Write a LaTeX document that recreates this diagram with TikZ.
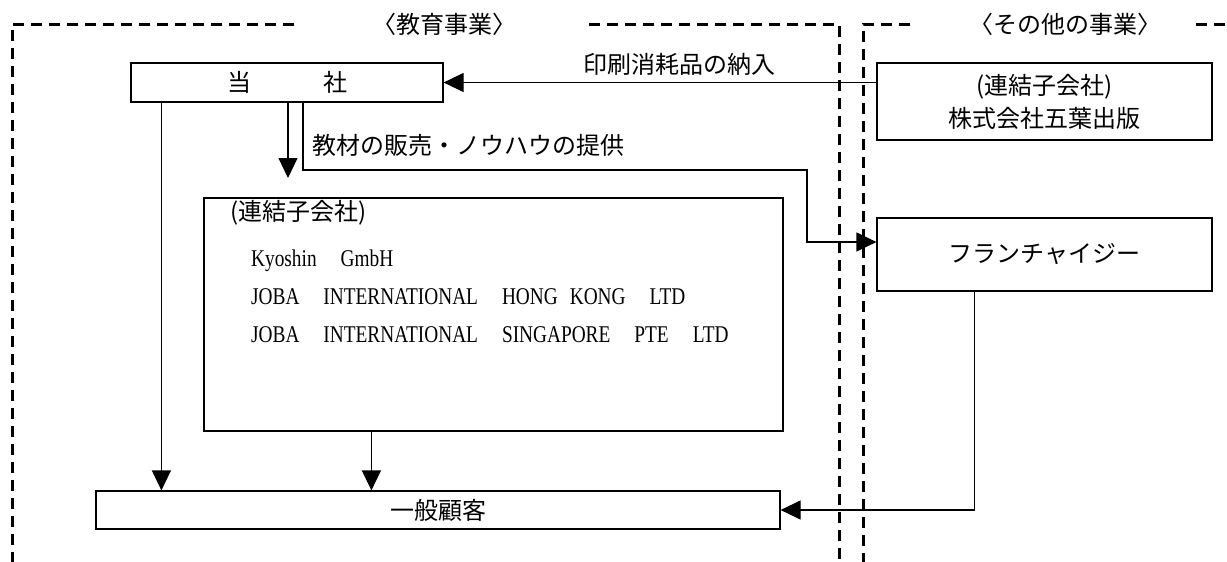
\documentclass[tikz,border=0pt]{standalone}
\usepackage{fontspec}
\setmainfont{Noto Sans CJK JP}
\newfontfamily\latinfont[FakeStretch=0.805]{Liberation Serif}
\usetikzlibrary{arrows.meta, positioning}

\begin{document}
\begin{tikzpicture}[x=1pt, y=-1pt,
    box/.style={draw, line width=1.2pt, inner sep=0pt},
    arr/.style={line width=1.2pt, -{Triangle[length=20pt, width=19pt]}},
    frame/.style={line width=3pt, dash pattern=on 11pt off 7pt},
    txt/.style={inner sep=0pt},
    font=\fontsize{24}{33}\selectfont]
    \useasboundingbox (0,0) rectangle (1227,562);
    % segment frames
    \draw[frame] (294,24) -- (12,24) -- (12,562);
    \draw[frame] (589,24) -- (839,24) -- (839,562);
    \draw[frame] (910,24) -- (863,24) -- (863,562);
    \draw[frame] (1196,24) -- (1227,24);
    \node[txt] (edu) at (444,24) {〈教育事業〉};
    \node[txt] (other) at (1065,24) {〈その他の事業〉};

    % companies
    \node[box, minimum width=312pt, minimum height=39pt] (tousha) at (287,82.5) {当\hspace{3em}社};
    \node[box, minimum width=335pt, minimum height=77pt, align=center] (goyo) at (1044.5,101.5) {(連結子会社)\\株式会社五葉出版};
    \node[box, minimum width=335pt, minimum height=73pt] (fc) at (1044.5,254.5) {フランチャイジー};
    \node[box, minimum width=579pt, minimum height=233pt] (sub) at (493.5,314.5) {};
    \node[txt, anchor=north west, align=left, font=\fontsize{24}{38}\selectfont] (sublist) at (230,200) {(連結子会社)\\[8pt]
        \hspace*{21pt}{\latinfont Kyoshin\hspace{24pt}GmbH}\\
        \hspace*{21pt}{\latinfont JOBA\hspace{24pt}INTERNATIONAL\hspace{24pt}HONG\hspace{12pt}KONG\hspace{24pt}LTD}\\
        \hspace*{21pt}{\latinfont JOBA\hspace{24pt}INTERNATIONAL\hspace{24pt}SINGAPORE\hspace{24pt}PTE\hspace{24pt}LTD}};
    \node[box, minimum width=684pt, minimum height=38pt] (kokyaku) at (438,510) {一般顧客};

    % flows
    \draw[arr] (tousha.east -| goyo.west) -- (tousha.east) node[txt, pos=0.454, above=6pt] (insatsu) {印刷消耗品の納入};
    \coordinate (dn) at (288,178);
    \draw[arr] (tousha.south -| dn) -- (dn);
    \coordinate (k1) at (303,170);
    \coordinate (k2) at (807,242);
    \draw[arr] (tousha.south -| k1) -- (k1) -| (k2) -- (k2 -| fc.west);
    \node[txt, anchor=west] (kyozai) at (312,145) {教材の販売・ノウハウの提供};
    \draw[arr] (tousha.south west) ++(31,0) coordinate (c1) -- (c1 |- kokyaku.north);
    \draw[arr] (sub.south west) ++(168,0) coordinate (c2) -- (c2 |- kokyaku.north);
    \draw[arr] (fc.south west) ++(98,0) |- (kokyaku.east);
\end{tikzpicture}
\end{document}
